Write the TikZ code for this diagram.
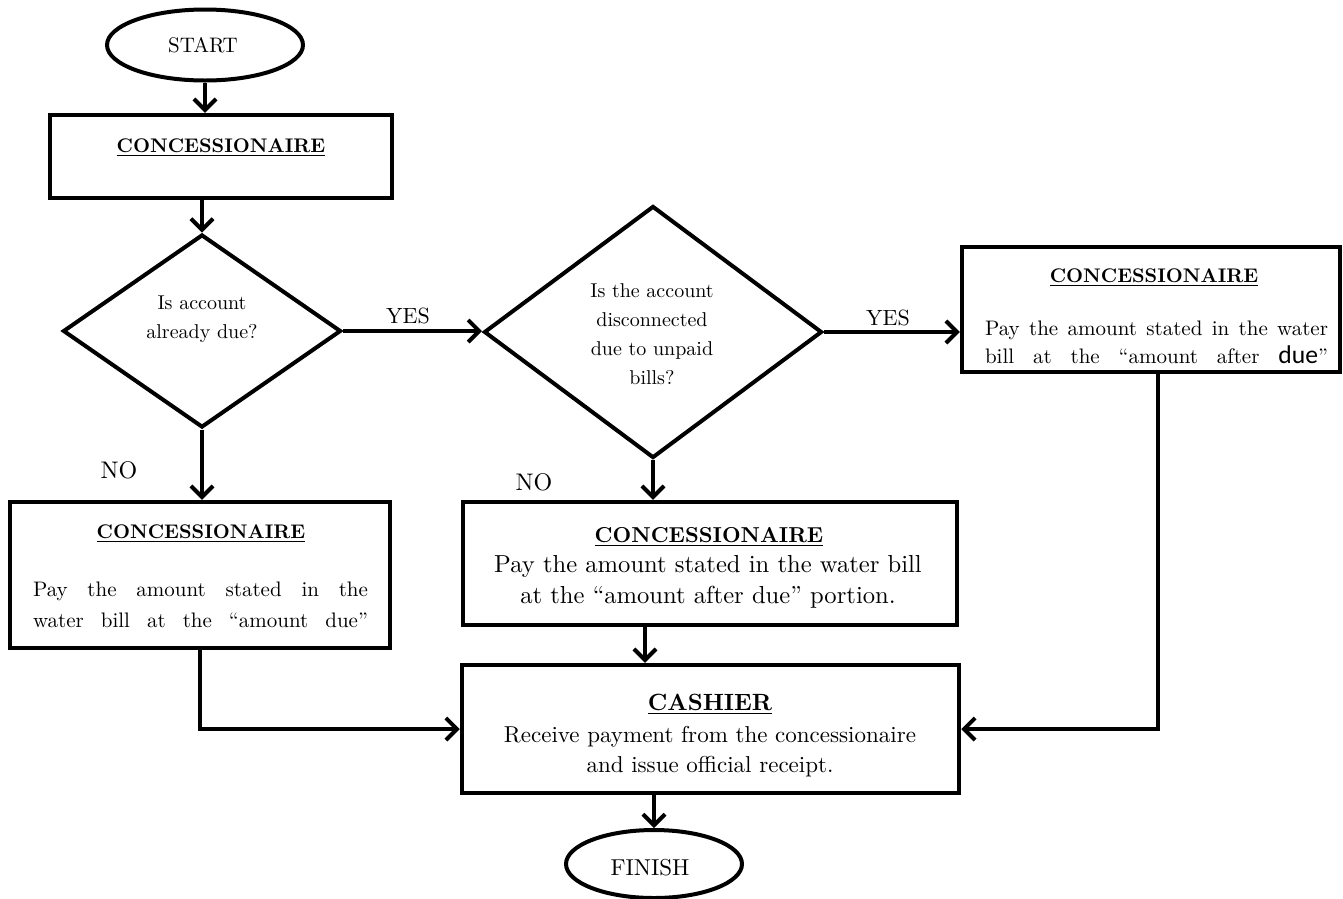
\documentclass[tikz,border=0pt]{standalone}
\usepackage{fontspec}
\usepackage{graphicx}
\newfontfamily\carlitofont{Carlito}
\usetikzlibrary{arrows.meta,shapes.geometric}
% text is set at 10pt and magnified, keeping the 10pt design weight
\newcommand\qline[1]{\scalebox{2.0}{#1}}
\newcommand\sideline[2]{\scalebox{2.1}{\makebox[#1][s]{#2}}}
\newcommand\bodyline[1]{\scalebox{2.46}{#1}}
\newcommand\cashline[1]{\scalebox{2.3}{#1}}
\newcommand\ttlsmall[1]{\scalebox{1.97}{\bfseries\underline{#1}}}
\newcommand\ttlmid[1]{\scalebox{2.16}{\bfseries\underline{#1}}}
\newcommand\ttlbig[1]{\scalebox{2.35}{\bfseries\underline{#1}}}
\tikzset{
  stepbox/.style={draw, rectangle, line width=4.5pt, inner sep=0pt},
  terminal/.style={draw, ellipse, line width=4pt, inner sep=0pt},
  decision/.style={draw, diamond, line width=4pt, inner sep=0pt},
  flow/.style={line width=4pt, -{Straight Barb[length=11pt,width=22pt]}},
  txt/.style={anchor=base, inner sep=0pt},
}
\begin{document}
\begin{tikzpicture}[x=1pt, y=-1pt]
\useasboundingbox (0,0) rectangle (1343,898);

% terminals
\node[terminal, minimum width=196pt, minimum height=71pt] (start) at (205,45) {};
\node[txt] (startlbl) at (203,52) {\scalebox{2.1}{START}};
\node[terminal, minimum width=176pt, minimum height=68pt] (finish) at (654,864) {};
\node[txt] (finishlbl) at (650,875) {\scalebox{2.3}{FINISH}};

% process boxes
\node[stepbox, minimum width=342pt, minimum height=83pt] (b1) at (221,156.5) {};
\node[stepbox, minimum width=380pt, minimum height=146pt] (lbox) at (200,575) {};
\node[stepbox, minimum width=494pt, minimum height=123pt] (mbox) at (710,563.5) {};
\node[stepbox, minimum width=378pt, minimum height=125pt] (rbox) at (1151,309.5) {};
\node[stepbox, minimum width=497pt, minimum height=128pt] (cashier) at (710.5,729) {};

% decisions
\node[decision, minimum width=278pt, minimum height=193pt] (d1) at (202,331) {};
\node[decision, minimum width=338pt, minimum height=252pt] (d2) at (653,332) {};

% box texts
\node[txt] (b1t) at (221,152) {\ttlsmall{CONCESSIONAIRE}};

\node[txt] (lboxt) at (201,538) {\ttlsmall{CONCESSIONAIRE}};
\node[txt] (lboxa) at (200.5,596) {\sideline{159.5pt}{Pay the amount stated in the}};
\node[txt] (lboxb) at (200.5,627) {\sideline{159.5pt}{water bill at the ``amount due''}};

\node[txt] (mboxt) at (709,542) {\ttlmid{CONCESSIONAIRE}};
\node[txt] (mboxa) at (708,572) {\bodyline{Pay the amount stated in the water bill}};
\node[txt] (mboxb) at (708,603) {\bodyline{at the ``amount after due'' portion.}};

\node[txt] (rboxt) at (1154,282) {\ttlsmall{CONCESSIONAIRE}};
\node[txt] (rboxa) at (1156.5,335) {\sideline{163.3pt}{Pay the amount stated in the water}};
\node[txt] (rboxb) at (1156.5,363) {\sideline{163.3pt}{bill at the ``amount after {\carlitofont\fontsize{12.2}{12.2}\selectfont due}''}};

\node[txt] (casht) at (710,710) {\ttlbig{CASHIER}};
\node[txt] (casha) at (710,742) {\cashline{Receive payment from the concessionaire}};
\node[txt] (cashb) at (710,772) {\cashline{and issue official receipt.}};

% decision texts
\node[txt] (d1a) at (202,309) {\qline{Is account}};
\node[txt] (d1b) at (202,338) {\qline{already due?}};
\node[txt] (d2a) at (652,297) {\qline{Is the account}};
\node[txt] (d2b) at (652,326) {\qline{disconnected}};
\node[txt] (d2c) at (652,355) {\qline{due to unpaid}};
\node[txt] (d2d) at (652,384) {\qline{bills?}};

% branch labels
\node[txt] (yes1) at (408,323) {\scalebox{2.2}{YES}};
\node[txt] (no1) at (119,478) {\scalebox{2.4}{NO}};
\node[txt] (yes2) at (888,325) {\scalebox{2.2}{YES}};
\node[txt] (no2) at (534,490) {\scalebox{2.4}{NO}};

% connectors
\coordinate (midx) at (645,0);
\coordinate (rightx) at (1158,0);
\draw[flow] (start.south) -- (start.south |- b1.north);
\draw[flow] (d1.north |- b1.south) -- (d1.north);
\draw[flow] (d1.east) -- (d1.east -| d2.west);
\draw[flow] (d2.east) -- (d2.east -| rbox.west);
\draw[flow] (d1.south) -- (d1.south |- lbox.north);
\draw[flow] (d2.south) -- (d2.south |- mbox.north);
\draw[flow] (midx |- mbox.south) -- (midx |- cashier.north);
\draw[flow] (lbox.south) |- (cashier.west);
\draw[flow] (rightx |- rbox.south) |- (cashier.east);
\draw[flow] (finish.north |- cashier.south) -- (finish.north);
\end{tikzpicture}
\end{document}
